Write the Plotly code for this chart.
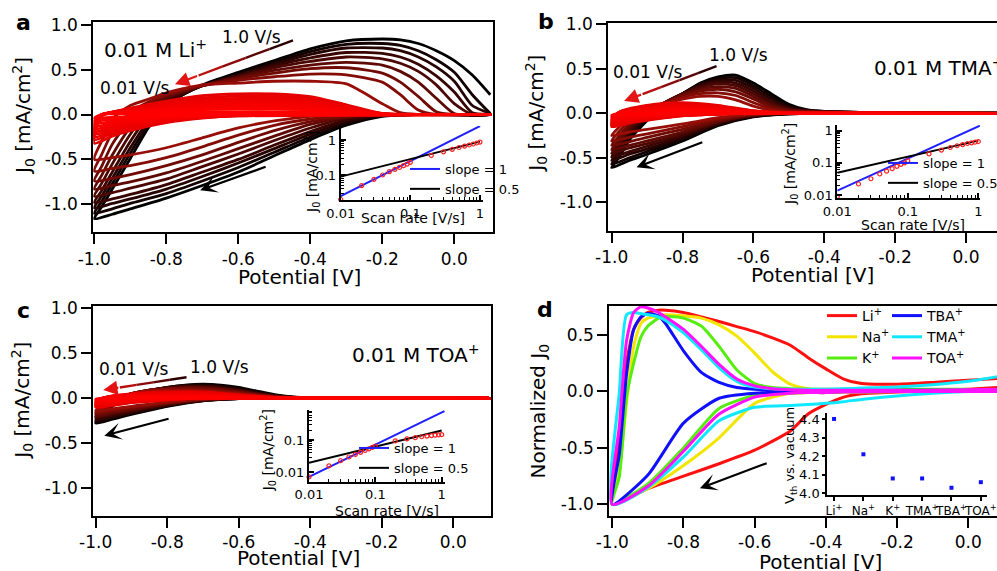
import plotly.graph_objects as go

W, H = 997, 571
FONT = "DejaVu Sans"

# ---------------- shared data ----------------
RATES = [0.01, 0.02, 0.03, 0.04, 0.05, 0.06, 0.07, 0.08, 0.09, 0.1,
         0.2, 0.3, 0.4, 0.5, 0.6, 0.7, 0.8, 0.9, 1.0]
TICK_X_MAIN = [-1.0, -0.8, -0.6, -0.4, -0.2, 0.0]
TICK_X_MAIN_TEXT = ["-1.0", "-0.8", "-0.6", "-0.4", "-0.2", "0.0"]
TICK_Y_MAIN = [-1.0, -0.5, 0.0, 0.5, 1.0]
TICK_Y_MAIN_TEXT = ["-1.0", "-0.5", "0.0", "0.5", "1.0"]
TICK_Y_D = [-1.0, -0.5, 0.0, 0.5]
TICK_Y_D_TEXT = ["-1.0", "-0.5", "0.0", "0.5"]
LOG_TICKS = [0.01, 0.1, 1]
LOG_TICK_TEXT = ["0.01", "0.1", "1"]
LOG_MINOR = [0.02, 0.03, 0.04, 0.05, 0.06, 0.07, 0.08, 0.09,
             0.2, 0.3, 0.4, 0.5, 0.6, 0.7, 0.8, 0.9]

# ---------------- panel a : 0.01 M Li+ ----------------
A_XL_RED = [0.1, -0.6, -0.7, -0.8, -0.9, -0.95, -1.0]
A_LOW_RED = [
    [0, 0, -0.005, -0.01, -0.02, -0.03, -0.04],
    [0, 0, -0.005, -0.02, -0.04, -0.05, -0.07],
    [0, -0.005, -0.01, -0.03, -0.06, -0.08, -0.10],
    [0, -0.005, -0.015, -0.04, -0.07, -0.10, -0.13],
    [0, -0.005, -0.02, -0.05, -0.09, -0.12, -0.16],
    [0, -0.01, -0.025, -0.055, -0.11, -0.14, -0.19],
    [0, -0.01, -0.03, -0.065, -0.125, -0.165, -0.22],
    [0, -0.01, -0.03, -0.07, -0.14, -0.19, -0.25],
    [0, -0.015, -0.035, -0.08, -0.16, -0.21, -0.28],
    [0, -0.015, -0.04, -0.09, -0.18, -0.24, -0.32],
]
A_XU_RED = [-1.0, -0.98, -0.9, -0.8, -0.7, -0.6, -0.5, -0.4, -0.3, -0.2, 0.1]
A_UP_RED = [
    [-0.04, 0.0, 0.01, 0.02, 0.027, 0.03, 0.03, 0.026, 0.014, 0.002, 0],
    [-0.07, 0.0, 0.018, 0.039, 0.054, 0.06, 0.059, 0.052, 0.028, 0.003, 0],
    [-0.10, 0.0, 0.024, 0.052, 0.072, 0.08, 0.079, 0.069, 0.038, 0.004, 0],
    [-0.13, 0.0, 0.03, 0.065, 0.09, 0.10, 0.099, 0.086, 0.047, 0.005, 0],
    [-0.16, -0.005, 0.036, 0.078, 0.108, 0.12, 0.119, 0.103, 0.056, 0.006, 0],
    [-0.19, -0.005, 0.042, 0.091, 0.126, 0.14, 0.139, 0.12, 0.066, 0.007, 0],
    [-0.22, -0.01, 0.048, 0.104, 0.144, 0.16, 0.158, 0.138, 0.075, 0.008, 0],
    [-0.25, -0.01, 0.054, 0.117, 0.162, 0.18, 0.178, 0.155, 0.085, 0.009, 0],
    [-0.28, -0.015, 0.062, 0.133, 0.185, 0.205, 0.203, 0.176, 0.096, 0.01, 0],
    [-0.32, -0.02, 0.07, 0.15, 0.21, 0.23, 0.228, 0.198, 0.108, 0.012, 0],
]
A_XL_DARK = [0.1, -0.1, -0.2, -0.3, -0.4, -0.5, -0.6, -0.7, -0.8, -0.9, -0.95, -1.0]
A_LOW_DARK = [
    [0, 0, 0, 0, -0.02, -0.07, -0.15, -0.26, -0.37, -0.45, -0.48, -0.50],
    [0, 0, 0, -0.01, -0.05, -0.12, -0.23, -0.36, -0.48, -0.57, -0.60, -0.63],
    [0, 0, 0, -0.02, -0.08, -0.18, -0.31, -0.45, -0.57, -0.67, -0.71, -0.74],
    [0, 0, 0, -0.03, -0.11, -0.24, -0.38, -0.52, -0.65, -0.75, -0.79, -0.83],
    [0, 0, -0.005, -0.04, -0.15, -0.29, -0.44, -0.58, -0.72, -0.82, -0.87, -0.91],
    [0, 0, -0.01, -0.06, -0.19, -0.34, -0.50, -0.64, -0.78, -0.89, -0.94, -0.98],
    [0, 0, -0.01, -0.08, -0.22, -0.38, -0.54, -0.69, -0.83, -0.94, -0.99, -1.04],
    [0, 0, -0.015, -0.10, -0.25, -0.42, -0.59, -0.74, -0.88, -0.99, -1.05, -1.10],
    [0, 0, -0.02, -0.12, -0.28, -0.46, -0.64, -0.79, -0.93, -1.05, -1.11, -1.16],
]
A_XU_DARK = [-1.0, -0.98, -0.95, -0.9, -0.85, -0.8, -0.75, -0.7, -0.6, -0.5,
             -0.4, -0.3, -0.2, -0.15, -0.1, -0.05, 0.0, 0.05, 0.1]
A_UP_DARK = [
    [-0.50, -0.30, -0.05, 0.10, 0.17, 0.24, 0.29, 0.33, 0.35, 0.37, 0.37, 0.34, 0.12, 0.02, 0, 0, 0, 0, 0],
    [-0.63, -0.45, -0.20, 0.02, 0.14, 0.22, 0.28, 0.32, 0.38, 0.42, 0.45, 0.44, 0.36, 0.22, 0.05, 0, 0, 0, 0],
    [-0.74, -0.58, -0.33, -0.06, 0.11, 0.21, 0.27, 0.32, 0.40, 0.46, 0.51, 0.52, 0.46, 0.36, 0.20, 0.03, 0, 0, 0],
    [-0.83, -0.68, -0.45, -0.14, 0.07, 0.19, 0.26, 0.32, 0.41, 0.49, 0.55, 0.58, 0.55, 0.48, 0.36, 0.18, 0.01, 0, 0],
    [-0.91, -0.77, -0.55, -0.22, 0.03, 0.17, 0.25, 0.32, 0.42, 0.52, 0.59, 0.64, 0.62, 0.57, 0.48, 0.33, 0.12, 0, 0],
    [-0.98, -0.85, -0.64, -0.30, -0.02, 0.15, 0.24, 0.32, 0.43, 0.54, 0.63, 0.69, 0.68, 0.64, 0.56, 0.43, 0.25, 0.02, 0],
    [-1.04, -0.91, -0.71, -0.37, -0.07, 0.12, 0.23, 0.32, 0.44, 0.56, 0.67, 0.74, 0.74, 0.71, 0.64, 0.53, 0.37, 0.10, 0],
    [-1.10, -0.97, -0.77, -0.43, -0.11, 0.11, 0.23, 0.32, 0.45, 0.58, 0.70, 0.78, 0.79, 0.77, 0.71, 0.61, 0.47, 0.22, 0.01],
    [-1.16, -1.03, -0.83, -0.49, -0.15, 0.10, 0.23, 0.33, 0.47, 0.60, 0.73, 0.82, 0.84, 0.83, 0.79, 0.71, 0.60, 0.44, 0.22],
]
A_INSET_J = [0.02, 0.05, 0.075, 0.1, 0.125, 0.145, 0.165, 0.185, 0.205, 0.23,
             0.36, 0.46, 0.54, 0.61, 0.67, 0.72, 0.77, 0.82, 0.87]
A_FIT1_X, A_FIT1_Y = [0.01, 1.0], [0.025, 2.5]
A_FIT05_X, A_FIT05_Y = [0.01, 1.0], [0.09, 0.9]

# ---------------- panel b : 0.01 M TMA+ ----------------
B_XL_RED = [0.1, -0.6, -0.7, -0.8, -0.9, -0.95, -1.0]
B_LOW_RED = [
    [0, 0, 0, -0.005, -0.01, -0.015, -0.02],
    [0, 0, 0, -0.005, -0.015, -0.02, -0.03],
    [0, 0, -0.005, -0.01, -0.025, -0.035, -0.045],
    [0, 0, -0.005, -0.012, -0.032, -0.045, -0.06],
    [0, 0, -0.005, -0.015, -0.04, -0.055, -0.075],
    [0, 0, -0.006, -0.018, -0.048, -0.066, -0.09],
    [0, 0, -0.007, -0.021, -0.056, -0.077, -0.105],
    [0, 0, -0.008, -0.024, -0.064, -0.088, -0.12],
    [0, 0, -0.009, -0.027, -0.072, -0.10, -0.135],
    [0, 0, -0.01, -0.03, -0.08, -0.11, -0.15],
]
B_XU_RED = [-1.0, -0.98, -0.9, -0.8, -0.7, -0.6, -0.5, 0.1]
B_UP_RED = [
    [-0.02, 0.0, 0.015, 0.02, 0.015, 0.005, 0.0, 0],
    [-0.03, 0.0, 0.022, 0.03, 0.022, 0.008, 0.001, 0],
    [-0.045, 0.0, 0.034, 0.045, 0.034, 0.011, 0.002, 0],
    [-0.06, 0.0, 0.041, 0.055, 0.041, 0.014, 0.002, 0],
    [-0.075, 0.005, 0.049, 0.065, 0.049, 0.016, 0.003, 0],
    [-0.09, 0.006, 0.056, 0.075, 0.056, 0.019, 0.003, 0],
    [-0.105, 0.007, 0.064, 0.085, 0.064, 0.021, 0.004, 0],
    [-0.12, 0.008, 0.071, 0.095, 0.071, 0.024, 0.004, 0],
    [-0.135, 0.009, 0.079, 0.105, 0.079, 0.026, 0.004, 0],
    [-0.15, 0.01, 0.09, 0.12, 0.09, 0.03, 0.005, 0],
]
B_XL_DARK = [0.1, -0.4, -0.5, -0.6, -0.7, -0.8, -0.9, -0.95, -1.0]
B_LOW_DARK = [
    [0, 0, 0, -0.01, -0.05, -0.12, -0.18, -0.21, -0.25],
    [0, 0, 0, -0.01, -0.06, -0.15, -0.23, -0.27, -0.31],
    [0, 0, 0, -0.015, -0.08, -0.18, -0.27, -0.32, -0.36],
    [0, 0, 0, -0.02, -0.09, -0.21, -0.31, -0.36, -0.41],
    [0, 0, 0, -0.02, -0.10, -0.23, -0.34, -0.39, -0.45],
    [0, 0, 0, -0.025, -0.11, -0.25, -0.37, -0.43, -0.49],
    [0, 0, -0.005, -0.03, -0.12, -0.27, -0.40, -0.46, -0.53],
    [0, 0, -0.005, -0.035, -0.13, -0.29, -0.43, -0.50, -0.57],
    [0, 0, -0.005, -0.04, -0.14, -0.31, -0.46, -0.53, -0.61],
]
B_XU_DARK = [-1.0, -0.98, -0.95, -0.9, -0.85, -0.8, -0.75, -0.7, -0.65, -0.6,
             -0.55, -0.5, -0.45, -0.4, -0.3, 0.1]
B_UP_DARK = [
    [-0.25, -0.16, -0.06, 0.05, 0.11, 0.16, 0.19, 0.19, 0.15, 0.08, 0.035, 0.015, 0.01, 0.01, 0.005, 0],
    [-0.31, -0.21, -0.09, 0.04, 0.12, 0.18, 0.22, 0.23, 0.20, 0.12, 0.05, 0.02, 0.015, 0.01, 0.005, 0],
    [-0.36, -0.26, -0.12, 0.03, 0.12, 0.20, 0.25, 0.27, 0.24, 0.16, 0.07, 0.03, 0.02, 0.01, 0.005, 0],
    [-0.41, -0.30, -0.15, 0.02, 0.12, 0.21, 0.27, 0.30, 0.28, 0.19, 0.09, 0.04, 0.02, 0.015, 0.01, 0],
    [-0.45, -0.34, -0.18, 0.0, 0.12, 0.22, 0.29, 0.33, 0.31, 0.22, 0.11, 0.045, 0.025, 0.015, 0.01, 0],
    [-0.49, -0.38, -0.21, -0.02, 0.12, 0.22, 0.31, 0.35, 0.34, 0.25, 0.13, 0.055, 0.03, 0.015, 0.01, 0],
    [-0.53, -0.42, -0.24, -0.04, 0.12, 0.22, 0.32, 0.37, 0.37, 0.28, 0.16, 0.07, 0.03, 0.02, 0.01, 0],
    [-0.57, -0.46, -0.27, -0.06, 0.11, 0.22, 0.33, 0.39, 0.40, 0.31, 0.19, 0.08, 0.035, 0.02, 0.01, 0],
    [-0.61, -0.50, -0.30, -0.08, 0.10, 0.22, 0.34, 0.41, 0.43, 0.34, 0.22, 0.10, 0.04, 0.02, 0.01, 0],
]
B_INSET_J = [0.009, 0.022, 0.032, 0.045, 0.055, 0.066, 0.078, 0.09, 0.10, 0.115,
             0.19, 0.25, 0.30, 0.34, 0.37, 0.40, 0.42, 0.44, 0.46]
B_FIT1_X, B_FIT1_Y = [0.01, 1.05], [0.0136, 1.43]
B_FIT05_X, B_FIT05_Y = [0.01, 1.0], [0.049, 0.49]

# ---------------- panel c : 0.01 M TOA+ ----------------
C_XL_RED = [0.1, -0.7, -0.8, -0.9, -1.0]
C_LOW_RED = [
    [0, 0, -0.002, -0.005, -0.01],
    [0, 0, -0.004, -0.01, -0.02],
    [0, 0, -0.006, -0.015, -0.03],
    [0, 0, -0.008, -0.02, -0.04],
    [0, 0, -0.01, -0.025, -0.05],
    [0, 0, -0.012, -0.03, -0.06],
    [0, 0, -0.014, -0.035, -0.07],
    [0, 0, -0.016, -0.04, -0.08],
    [0, 0, -0.018, -0.045, -0.09],
    [0, 0, -0.02, -0.05, -0.10],
]
C_XU_RED = [-1.0, -0.98, -0.9, -0.8, -0.7, -0.6, -0.5, 0.1]
C_UP_RED = [
    [-0.01, 0, 0.007, 0.01, 0.01, 0.006, 0.001, 0],
    [-0.02, 0, 0.011, 0.015, 0.015, 0.009, 0.002, 0],
    [-0.03, 0, 0.014, 0.02, 0.02, 0.011, 0.003, 0],
    [-0.04, 0, 0.021, 0.03, 0.03, 0.017, 0.004, 0],
    [-0.05, 0, 0.025, 0.035, 0.035, 0.02, 0.005, 0],
    [-0.06, 0, 0.029, 0.04, 0.04, 0.023, 0.006, 0],
    [-0.07, 0, 0.032, 0.045, 0.045, 0.026, 0.006, 0],
    [-0.08, 0, 0.036, 0.05, 0.05, 0.029, 0.007, 0],
    [-0.09, 0, 0.043, 0.06, 0.06, 0.034, 0.009, 0],
    [-0.10, 0, 0.05, 0.07, 0.07, 0.04, 0.01, 0],
]
C_XL_DARK = [0.1, -0.5, -0.6, -0.7, -0.8, -0.9, -0.95, -1.0]
C_LOW_DARK = [
    [0, 0, 0, -0.01, -0.04, -0.09, -0.115, -0.14],
    [0, 0, 0, -0.012, -0.046, -0.10, -0.13, -0.16],
    [0, 0, -0.002, -0.015, -0.055, -0.115, -0.145, -0.18],
    [0, 0, -0.003, -0.018, -0.062, -0.128, -0.162, -0.20],
    [0, 0, -0.003, -0.02, -0.066, -0.135, -0.17, -0.21],
    [0, 0, -0.004, -0.023, -0.074, -0.148, -0.188, -0.23],
    [0, 0, -0.004, -0.026, -0.08, -0.162, -0.205, -0.25],
    [0, 0, -0.005, -0.028, -0.085, -0.17, -0.218, -0.265],
    [0, 0, -0.005, -0.03, -0.09, -0.18, -0.23, -0.28],
]
C_XU_DARK = [-1.0, -0.98, -0.95, -0.9, -0.85, -0.8, -0.75, -0.7, -0.65, -0.6,
             -0.55, -0.5, -0.45, -0.4, 0.1]
C_UP_DARK = [
    [-0.14, -0.07, -0.01, 0.05, 0.08, 0.09, 0.088, 0.082, 0.068, 0.048, 0.028, 0.012, 0.005, 0.002, 0],
    [-0.16, -0.085, -0.02, 0.05, 0.085, 0.098, 0.10, 0.094, 0.08, 0.058, 0.034, 0.015, 0.006, 0.002, 0],
    [-0.18, -0.10, -0.03, 0.05, 0.088, 0.105, 0.11, 0.105, 0.09, 0.066, 0.04, 0.018, 0.007, 0.002, 0],
    [-0.20, -0.12, -0.04, 0.05, 0.09, 0.11, 0.12, 0.116, 0.10, 0.075, 0.045, 0.02, 0.008, 0.003, 0],
    [-0.21, -0.13, -0.045, 0.05, 0.09, 0.113, 0.125, 0.123, 0.108, 0.083, 0.05, 0.023, 0.009, 0.003, 0],
    [-0.23, -0.145, -0.055, 0.045, 0.09, 0.115, 0.13, 0.13, 0.115, 0.09, 0.055, 0.026, 0.01, 0.004, 0],
    [-0.25, -0.16, -0.065, 0.04, 0.088, 0.118, 0.136, 0.14, 0.126, 0.10, 0.062, 0.03, 0.012, 0.004, 0],
    [-0.265, -0.17, -0.07, 0.035, 0.085, 0.12, 0.142, 0.15, 0.138, 0.11, 0.07, 0.035, 0.013, 0.005, 0],
    [-0.28, -0.18, -0.08, 0.03, 0.08, 0.12, 0.145, 0.155, 0.145, 0.12, 0.08, 0.04, 0.015, 0.005, 0],
]
C_INSET_J = [0.0072, 0.016, 0.023, 0.03, 0.036, 0.042, 0.048, 0.054, 0.06, 0.066,
             0.095, 0.11, 0.12, 0.128, 0.134, 0.139, 0.143, 0.146, 0.148]
C_FIT1_X, C_FIT1_Y = [0.01, 1.1], [0.0073, 0.80]
C_FIT05_X, C_FIT05_Y = [0.01, 1.0], [0.02, 0.20]

# ---------------- panel d : normalized CVs ----------------
D_NAMES = ["Li<sup>+</sup>", "Na<sup>+</sup>", "K<sup>+</sup>",
           "TBA<sup>+</sup>", "TMA<sup>+</sup>", "TOA<sup>+</sup>"]
D_XL = [0.1, 0.0, -0.1, -0.2, -0.3, -0.35, -0.4, -0.45, -0.5, -0.6, -0.7, -0.8, -0.9, -1.0]
D_LOW_LI = [0.04, 0.02, 0.005, -0.005, -0.02, -0.05, -0.115, -0.2, -0.35, -0.52, -0.64, -0.75, -0.86, -1.0]
D_LOW_NA = [0.0, 0.0, 0.0, 0.0, -0.005, -0.005, -0.01, -0.01, -0.015, -0.105, -0.41, -0.655, -0.86, -1.0]
D_LOW_K = [None, 0.0, 0.0, 0.0, -0.005, -0.005, -0.01, -0.01, -0.015, -0.035, -0.15, -0.5, -0.82, -1.0]
D_LOW_TBA = [0.0, 0.0, 0.0, 0.0, 0.0, 0.0, -0.005, -0.005, -0.01, -0.015, -0.06, -0.28, -0.74, -1.0]
D_LOW_TMA = [0.02, 0.0, -0.015, -0.04, -0.07, -0.09, -0.105, -0.115, -0.125, -0.14, -0.26, -0.58, -0.85, -1.0]
D_LOW_TOA = [0.0, 0.0, 0.0, 0.0, -0.005, -0.005, -0.01, -0.01, -0.015, -0.05, -0.2, -0.53, -0.84, -1.0]
D_XU = [-1.0, -0.98, -0.96, -0.94, -0.92, -0.9, -0.87, -0.85, -0.8, -0.75, -0.7, -0.65,
        -0.6, -0.55, -0.5, -0.45, -0.4, -0.35, -0.3, -0.2, -0.1, 0.0, 0.1]
D_UP_LI = [-1.0, -0.45, 0.25, 0.55, 0.65, 0.7, 0.72, 0.72, 0.7, 0.66, 0.62, 0.575,
           0.53, 0.475, 0.41, 0.3, 0.2, 0.11, 0.07, 0.065, 0.08, 0.1, 0.12]
D_UP_NA = [-1.0, -0.7, -0.1, 0.4, 0.6, 0.65, 0.67, 0.68, 0.67, 0.65, 0.59, 0.49,
           0.34, 0.175, 0.065, 0.025, 0.015, 0.01, 0.01, 0.01, 0.01, 0.01, 0.01]
D_UP_K = [-1.0, -0.75, -0.05, 0.25, 0.48, 0.58, 0.65, 0.665, 0.65, 0.58, 0.4, 0.19,
          0.07, 0.035, 0.025, 0.02, 0.02, 0.02, 0.02, 0.02, 0.02, 0.02, None]
D_UP_TBA = [-1.0, -0.55, 0.15, 0.55, 0.66, 0.69, 0.67, 0.6, 0.36, 0.17, 0.08, 0.035,
            0.02, 0.012, 0.01, 0.01, 0.01, 0.01, 0.01, 0.01, 0.01, 0.01, 0.01]
D_UP_TMA = [-1.0, 0.0, 0.68, 0.7, 0.69, 0.68, 0.66, 0.63, 0.52, 0.37, 0.21, 0.09,
            0.04, 0.025, 0.02, 0.02, 0.02, 0.025, 0.03, 0.04, 0.06, 0.09, 0.14]
D_UP_TOA = [-1.0, -0.3, 0.45, 0.7, 0.75, 0.74, 0.7, 0.66, 0.55, 0.4, 0.24, 0.11,
            0.05, 0.025, 0.015, 0.01, 0.01, 0.01, 0.01, 0.01, 0.01, 0.015, 0.02]
D_VTH_CAT = ["Li", "Na", "K", "TMA", "TBA", "TOA"]
D_VTH_LABELS = ["Li<sup>+</sup>", "Na<sup>+</sup>", "K<sup>+</sup>",
                "TMA<sup>+</sup>", "TBA<sup>+</sup>", "TOA<sup>+</sup>"]
D_VTH = [4.40, 4.21, 4.08, 4.08, 4.03, 4.06]
D_VTH_TICKS = [4.0, 4.1, 4.2, 4.3, 4.4]
D_VTH_TICK_TEXT = ["4.0", "4.1", "4.2", "4.3", "4.4"]

# ---------------- helpers ----------------
def pxx(px):
    return px / W


def pxy(py):
    return 1 - py / H


def rate_color(i):
    if i < 10:
        return "rgb(%d,0,0)" % (255 - 3 * i)
    j = i - 10
    r = round(150 * (8 - j) / 8)
    g = round(14 * (8 - j) / 8)
    return "rgb(%d,%d,%d)" % (r, g, g // 2)


fig = go.Figure()


def add_cv(xl_r, low_r, xu_r, up_r, xl_d, low_d, xu_d, up_d, xa, ya):
    for j in range(len(low_d) - 1, -1, -1):
        fig.add_trace(go.Scatter(
            x=xl_d + xu_d[1:], y=low_d[j] + up_d[j][1:], mode="lines",
            line=dict(color=rate_color(10 + j), width=2.8, shape="spline", smoothing=0.7),
            xaxis=xa, yaxis=ya, showlegend=False, hoverinfo="skip"))
    for i in range(len(low_r) - 1, -1, -1):
        fig.add_trace(go.Scatter(
            x=xl_r + xu_r[1:], y=low_r[i] + up_r[i][1:], mode="lines",
            line=dict(color=rate_color(i), width=2.8, shape="spline", smoothing=0.7),
            xaxis=xa, yaxis=ya, showlegend=False, hoverinfo="skip"))


def add_inset(jvals, f1x, f1y, f05x, f05y, xa, ya, lg):
    fig.add_trace(go.Scatter(x=f1x, y=f1y, mode="lines", name="slope = 1",
                             line=dict(color="#1f1fff", width=2), xaxis=xa, yaxis=ya,
                             legend=lg))
    fig.add_trace(go.Scatter(x=f05x, y=f05y, mode="lines", name="slope = 0.5",
                             line=dict(color="black", width=2), xaxis=xa, yaxis=ya,
                             legend=lg))
    fig.add_trace(go.Scatter(x=RATES, y=jvals, mode="markers",
                             marker=dict(symbol="circle-open", size=4, color="#ff2020",
                                         line=dict(width=1.2)),
                             xaxis=xa, yaxis=ya, showlegend=False, cliponaxis=False))


add_cv(A_XL_RED, A_LOW_RED, A_XU_RED, A_UP_RED, A_XL_DARK, A_LOW_DARK, A_XU_DARK, A_UP_DARK, "x", "y")
add_cv(B_XL_RED, B_LOW_RED, B_XU_RED, B_UP_RED, B_XL_DARK, B_LOW_DARK, B_XU_DARK, B_UP_DARK, "x2", "y2")
add_cv(C_XL_RED, C_LOW_RED, C_XU_RED, C_UP_RED, C_XL_DARK, C_LOW_DARK, C_XU_DARK, C_UP_DARK, "x3", "y3")

D_COLORS = ["#ff1010", "#f2e600", "#55ee10", "#1010ff", "#10e8ff", "#ff10ff"]
D_LOWS = [D_LOW_LI, D_LOW_NA, D_LOW_K, D_LOW_TBA, D_LOW_TMA, D_LOW_TOA]
D_UPS = [D_UP_LI, D_UP_NA, D_UP_K, D_UP_TBA, D_UP_TMA, D_UP_TOA]
for k in range(6):
    fig.add_trace(go.Scatter(
        x=D_XL + D_XU[1:], y=D_LOWS[k] + D_UPS[k][1:], mode="lines", name=D_NAMES[k],
        line=dict(color=D_COLORS[k], width=3, shape="spline", smoothing=0.6),
        xaxis="x4", yaxis="y4", legend="legend4" if k < 3 else "legend5"))

add_inset(A_INSET_J, A_FIT1_X, A_FIT1_Y, A_FIT05_X, A_FIT05_Y, "x5", "y5", "legend")
add_inset(B_INSET_J, B_FIT1_X, B_FIT1_Y, B_FIT05_X, B_FIT05_Y, "x6", "y6", "legend2")
add_inset(C_INSET_J, C_FIT1_X, C_FIT1_Y, C_FIT05_X, C_FIT05_Y, "x7", "y7", "legend3")

fig.add_trace(go.Scatter(x=D_VTH_CAT, y=D_VTH, mode="markers",
                         marker=dict(symbol="square", size=4, color="#1010ff"),
                         xaxis="x8", yaxis="y8", showlegend=False, cliponaxis=False))

# ---------------- axes ----------------
def main_x(dom, rng, anchor, mirror=True):
    return dict(domain=dom, range=rng, anchor=anchor, showline=True, linewidth=2,
                linecolor="black", mirror=mirror, ticks="outside", ticklen=10, tickwidth=2,
                tickcolor="black", tickvals=TICK_X_MAIN, ticktext=TICK_X_MAIN_TEXT,
                tickfont=dict(size=17), showgrid=False, zeroline=False, automargin=False)


def main_y(dom, rng, anchor, mirror=True, tv=TICK_Y_MAIN, tt=TICK_Y_MAIN_TEXT):
    return dict(domain=dom, range=rng, anchor=anchor, showline=True, linewidth=2,
                linecolor="black", mirror=mirror, ticks="outside", ticklen=10, tickwidth=2,
                tickcolor="black", tickvals=tv, ticktext=tt,
                tickfont=dict(size=17), showgrid=False, zeroline=False, automargin=False)


def inset_log(dom, rng, anchor, tv, tt):
    return dict(type="log", domain=dom, range=rng, anchor=anchor, showline=True,
                linewidth=2, linecolor="black", mirror=False, ticks="inside", ticklen=5,
                tickwidth=1.5, tickcolor="black", tickvals=tv, ticktext=tt,
                tickfont=dict(size=13), showgrid=False, zeroline=False, automargin=False,
                minor=dict(ticks="inside", ticklen=3, tickwidth=1, tickcolor="black",
                           tickvals=LOG_MINOR, showgrid=False))


layout = dict(
    width=W, height=H, margin=dict(l=0, r=0, t=0, b=0, autoexpand=False),
    paper_bgcolor="white", plot_bgcolor="rgba(0,0,0,0)",
    font=dict(family=FONT, color="black", size=14),
    xaxis=main_x([pxx(93.3), pxx(492.7)], [-1.0028, 0.1067], "y"),
    yaxis=main_y([pxy(232.3), pxy(22.3)], [-1.311, 1.026], "x"),
    xaxis2=main_x([pxx(608.3), 1.0], [-1.0096, 0.0875], "y2"),
    yaxis2=main_y([pxy(230.7), pxy(22.7)], [-1.319, 1.018], "x2", mirror=False),
    xaxis3=main_x([pxx(93.3), pxx(491)], [-1.0067, 0.1054], "y3"),
    yaxis3=main_y([pxy(516), pxy(306)], [-1.311, 1.026], "x3"),
    xaxis4=main_x([pxx(609.3), 1.0], [-1.0084, 0.0806], "y4"),
    yaxis4=main_y([pxy(516), pxy(305.7)], [-1.103, 0.76], "x4", mirror=False,
                  tv=TICK_Y_D, tt=TICK_Y_D_TEXT),
    xaxis5=inset_log([pxx(340.7), pxx(482.7)], [-2, 0.039], "y5", LOG_TICKS, LOG_TICK_TEXT),
    yaxis5=inset_log([pxy(200), pxy(126)], [-1.714, 0.4], "x5", LOG_TICKS[1:], LOG_TICK_TEXT[1:]),
    xaxis6=inset_log([pxx(837.3), pxx(980)], [-2, 0.024], "y6", LOG_TICKS, LOG_TICK_TEXT),
    yaxis6=inset_log([pxy(198.3), pxy(125)], [-2.103, 0.177], "x6", LOG_TICKS, LOG_TICK_TEXT),
    xaxis7=inset_log([pxx(309), pxx(445)], [-2, 0.05], "y7", LOG_TICKS, LOG_TICK_TEXT),
    yaxis7=inset_log([pxy(481.7), pxy(410)], [-2.29, -0.0625], "x7", LOG_TICKS[:2], LOG_TICK_TEXT[:2]),
    xaxis8=dict(domain=[pxx(827.3), pxx(986.7)], range=[-0.23, 5.2], anchor="y8",
                type="category", categoryorder="array", categoryarray=D_VTH_CAT,
                tickvals=D_VTH_CAT, ticktext=D_VTH_LABELS, tickangle=0,
                showline=True, linewidth=2, linecolor="black", ticks="outside", ticklen=4,
                tickwidth=1.5, tickcolor="black", tickfont=dict(size=12), showgrid=False,
                zeroline=False, automargin=False),
    yaxis8=dict(domain=[pxy(495), pxy(413)], range=[3.991, 4.432], anchor="x8",
                tickvals=D_VTH_TICKS, ticktext=D_VTH_TICK_TEXT, showline=True, linewidth=2,
                linecolor="black", ticks="outside", ticklen=3, tickwidth=1.5,
                tickcolor="black", tickfont=dict(size=13), showgrid=False, zeroline=False,
                automargin=False),
)


def leg(left, top, size):
    return dict(x=pxx(left), y=pxy(top), xanchor="left", yanchor="top",
                bgcolor="rgba(0,0,0,0)", borderwidth=0, font=dict(size=size),
                tracegroupgap=0, itemwidth=30)


layout["legend"] = leg(405, 154, 13)
layout["legend2"] = leg(883, 148, 13)
layout["legend3"] = leg(354, 433, 13)
layout["legend4"] = leg(822, 300, 14)
layout["legend5"] = leg(887, 300, 14)
fig.update_layout(**layout)

# ---------------- annotations ----------------
ann = []
shapes = []


def txt(text, x, y, size, xref="paper", yref="paper", angle=0, xanchor="center",
        bold=False):
    ann.append(dict(text=("<b>%s</b>" % text) if bold else text, x=x, y=y, xref=xref,
                    yref=yref, showarrow=False, textangle=angle, xanchor=xanchor,
                    yanchor="middle", font=dict(size=size, family=FONT, color="black")))


def arrow(tail, head, xa, ya, color, head_style=2):
    ann.append(dict(x=head[0], y=head[1], ax=tail[0], ay=tail[1], xref=xa, yref=ya,
                    axref=xa, ayref=ya, showarrow=True, arrowhead=head_style,
                    arrowsize=1.3, arrowwidth=2.2, arrowcolor=color, text=""))


def grad_arrow(tail, head, xa, ya):
    cols = ["#2a0000", "#5a0606", "#8a0a0a", "#b80e0e"]
    n = len(cols)
    pts = [(tail[0] + (head[0] - tail[0]) * k / (n + 1),
            tail[1] + (head[1] - tail[1]) * k / (n + 1)) for k in range(n + 1)]
    for k in range(n):
        shapes.append(dict(type="line", xref=xa, yref=ya, x0=pts[k][0], y0=pts[k][1],
                           x1=pts[k + 1][0], y1=pts[k + 1][1],
                           line=dict(color=cols[k], width=2.4)))
    arrow(pts[-1], head, xa, ya, "#e41414", 2)


# panel letters
txt("a", pxx(23.5), pxy(23), 22, bold=True)
txt("b", pxx(546), pxy(22), 22, bold=True)
txt("c", pxx(23.5), pxy(310), 22, bold=True)
txt("d", pxx(545), pxy(309), 22, bold=True)

# axis titles
TITLE_J = "J<sub>0</sub> [mA/cm<sup>2</sup>]"
txt("Potential [V]", pxx(299), pxy(277), 20)
txt("Potential [V]", pxx(812.5), pxy(275), 20)
txt("Potential [V]", pxx(298.3), pxy(558), 20)
txt("Potential [V]", pxx(820), pxy(561.7), 20)
txt(TITLE_J, pxx(23), pxy(116), 20, angle=-90)
txt(TITLE_J, pxx(536.7), pxy(114), 20, angle=-90)
txt(TITLE_J, pxx(21.7), pxy(401), 20, angle=-90)
txt("Normalized J<sub>0</sub>", pxx(538), pxy(411.5), 20, angle=-90)

# inset titles
txt("Scan rate [V/s]", pxx(413), pxy(218), 14)
txt(TITLE_J, pxx(311.5), pxy(172.5), 14, angle=-90)
txt("Scan rate [V/s]", pxx(913), pxy(224.5), 14)
txt(TITLE_J, pxx(790), pxy(164), 14, angle=-90)
txt("Scan rate [V/s]", pxx(386.7), pxy(511), 14)
txt(TITLE_J, pxx(268.3), pxy(450), 14, angle=-90)
txt("V<sub>th</sub> vs. vacuum", pxx(791), pxy(456), 13, angle=-90)

# in-panel labels
txt("0.01 M Li<sup>+</sup>", -0.979, 0.726, 20, "x", "y", xanchor="left")
txt("1.0 V/s", -0.651, 0.86, 17, "x", "y", xanchor="left")
txt("0.01 V/s", -0.99, 0.30, 17, "x", "y", xanchor="left")
txt("0.01 M TMA<sup>+</sup>", -0.266, 0.524, 20, "x2", "y2", xanchor="left")
txt("1.0 V/s", -0.732, 0.655, 17, "x2", "y2", xanchor="left")
txt("0.01 V/s", -1.002, 0.467, 17, "x2", "y2", xanchor="left")
txt("0.01 M TOA<sup>+</sup>", -0.289, 0.489, 20, "x3", "y3", xanchor="left")
txt("1.0 V/s", -0.741, 0.344, 17, "x3", "y3", xanchor="left")
txt("0.01 V/s", -0.997, 0.32, 17, "x3", "y3", xanchor="left")

# arrows
grad_arrow((-0.448, 0.826), (-0.776, 0.336), "x", "y")
arrow((-0.52, -0.576), (-0.706, -0.844), "x", "y", "black", 3)
grad_arrow((-0.704, 0.531), (-0.965, 0.138), "x2", "y2")
arrow((-0.74, -0.319), (-0.93, -0.607), "x2", "y2", "black", 3)
grad_arrow((-0.746, 0.233), (-0.979, 0.091), "x3", "y3")
arrow((-0.792, -0.224), (-0.976, -0.417), "x3", "y3", "black", 3)
arrow((-0.562, -0.63), (-0.754, -0.857), "x4", "y4", "black", 3)

fig.update_layout(annotations=ann, shapes=shapes)
fig.write_html("out.html", config={"displayModeBar": False},
               post_script="document.body.style.margin='0px';"
                           "document.body.style.overflow='hidden';")
